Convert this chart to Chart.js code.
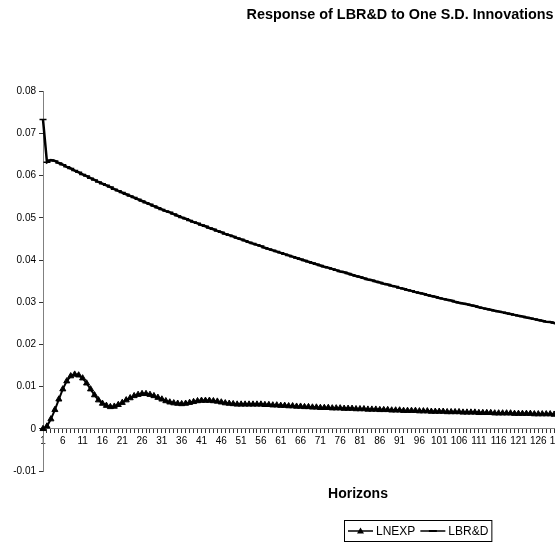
<!DOCTYPE html>
<html>
<head>
<meta charset="utf-8">
<script src="https://cdn.jsdelivr.net/npm/chart.js@4/dist/chart.umd.min.js"></script>
<style>
  html, body { margin: 0; padding: 0; background: #fff; overflow: hidden; }
  #wrap { width: 800px; height: 546px; }
</style>
</head>
<body>
<div id="wrap"><canvas id="irf" width="800" height="546"></canvas></div>
<script>
// horizons 1..160 (the plot runs past the right edge of the window)
const horizons = Array.from({ length: 160 }, (_, i) => String(i + 1));

const lnexp = [
    0.0000, 0.0006, 0.0023, 0.0045, 0.0070, 0.0094, 0.0113, 0.0125, 0.0129, 0.0127,
    0.0120, 0.0108, 0.0094, 0.0080, 0.0068, 0.0060, 0.0055, 0.0052, 0.0053, 0.0057,
    0.0062, 0.0068, 0.0073, 0.0078, 0.0081, 0.0083, 0.0083, 0.0081, 0.0078, 0.0074,
    0.0070, 0.0066, 0.0063, 0.0061, 0.0060, 0.0059, 0.0060, 0.0062, 0.0064, 0.0066,
    0.0067, 0.0067, 0.0067, 0.0066, 0.0065, 0.0063, 0.0061, 0.0060, 0.0059, 0.0058,
    0.0058, 0.0058, 0.0058, 0.0058, 0.0058, 0.0058, 0.0057, 0.0057, 0.0056, 0.0056,
    0.0055, 0.0055, 0.0054, 0.0054, 0.0053, 0.0053, 0.0052, 0.0052, 0.0051, 0.0051,
    0.0050, 0.0050, 0.0050, 0.0049, 0.0049, 0.0049, 0.0048, 0.0048, 0.0048, 0.0047,
    0.0047, 0.0047, 0.0046, 0.0046, 0.0046, 0.0045, 0.0045, 0.0045, 0.0044, 0.0044,
    0.0044, 0.0043, 0.0043, 0.0043, 0.0043, 0.0042, 0.0042, 0.0042, 0.0041, 0.0041,
    0.0041, 0.0041, 0.0040, 0.0040, 0.0040, 0.0040, 0.0039, 0.0039, 0.0039, 0.0039,
    0.0038, 0.0038, 0.0038, 0.0038, 0.0037, 0.0037, 0.0037, 0.0037, 0.0037, 0.0036,
    0.0036, 0.0036, 0.0036, 0.0036, 0.0035, 0.0035, 0.0035, 0.0035, 0.0035, 0.0034,
    0.0034, 0.0034, 0.0034, 0.0034, 0.0033
];

const lbrd = [
    0.0733, 0.0632, 0.0637, 0.0635, 0.0630, 0.0626, 0.0621, 0.0617, 0.0612, 0.0608,
    0.0603, 0.0599, 0.0594, 0.0590, 0.0585, 0.0581, 0.0577, 0.0573, 0.0568, 0.0564,
    0.0560, 0.0556, 0.0552, 0.0548, 0.0544, 0.0540, 0.0536, 0.0532, 0.0528, 0.0524,
    0.0520, 0.0516, 0.0513, 0.0509, 0.0505, 0.0501, 0.0498, 0.0494, 0.0490, 0.0487,
    0.0483, 0.0480, 0.0476, 0.0473, 0.0469, 0.0466, 0.0462, 0.0459, 0.0456, 0.0452,
    0.0449, 0.0446, 0.0442, 0.0439, 0.0436, 0.0433, 0.0429, 0.0426, 0.0423, 0.0420,
    0.0417, 0.0414, 0.0411, 0.0408, 0.0405, 0.0402, 0.0399, 0.0396, 0.0393, 0.0390,
    0.0387, 0.0384, 0.0382, 0.0379, 0.0376, 0.0373, 0.0371, 0.0368, 0.0365, 0.0362,
    0.0360, 0.0357, 0.0354, 0.0352, 0.0349, 0.0347, 0.0344, 0.0342, 0.0339, 0.0337,
    0.0334, 0.0332, 0.0329, 0.0327, 0.0324, 0.0322, 0.0320, 0.0317, 0.0315, 0.0313,
    0.0310, 0.0308, 0.0306, 0.0304, 0.0301, 0.0299, 0.0297, 0.0295, 0.0293, 0.0291,
    0.0288, 0.0286, 0.0284, 0.0282, 0.0280, 0.0278, 0.0276, 0.0274, 0.0272, 0.0270,
    0.0268, 0.0266, 0.0264, 0.0262, 0.0260, 0.0258, 0.0256, 0.0254, 0.0253, 0.0251,
    0.0249, 0.0247, 0.0245, 0.0243, 0.0242
];

const yTicks = [-0.01, 0, 0.01, 0.02, 0.03, 0.04, 0.05, 0.06, 0.07, 0.08];

const FONT = '"Liberation Sans", Arial, sans-serif';

// Excel-style boxed legend under the axis title
const boxLegend = {
    id: 'boxLegend',
    afterDraw(chart) {
        const ctx = chart.ctx;
        const sets = chart.data.datasets;
        const y = 531;
        let x = 344;
        const left = x;
        ctx.save();
        ctx.font = '12px ' + FONT;
        ctx.textBaseline = 'middle';
        ctx.fillStyle = '#000';
        ctx.strokeStyle = '#000';
        x += 4;
        sets.forEach((ds, i) => {
            ctx.lineWidth = 1.5;
            ctx.beginPath();
            ctx.moveTo(x, y);
            ctx.lineTo(x + 25, y);
            ctx.stroke();
            const cx = x + 12.5;
            if (ds.pointStyle === 'triangle') {
                ctx.beginPath();
                ctx.moveTo(cx, y - 3.5);
                ctx.lineTo(cx + 3.5, y + 2.5);
                ctx.lineTo(cx - 3.5, y + 2.5);
                ctx.closePath();
                ctx.fill();
            } else {
                ctx.lineWidth = 2;
                ctx.beginPath();
                ctx.moveTo(cx - 4, y);
                ctx.lineTo(cx + 4, y);
                ctx.stroke();
            }
            x += 28;
            ctx.fillText(ds.label, x, y + 0.5);
            x += ctx.measureText(ds.label).width + (i < sets.length - 1 ? 5 : 3);
        });
        ctx.lineWidth = 1;
        ctx.strokeRect(left + 0.5, 520.5, x - left, 21);
        ctx.restore();
    }
};

new Chart(document.getElementById('irf'), {
    type: 'line',
    data: {
        labels: horizons,
        datasets: [
            {
                label: 'LNEXP',
                data: lnexp,
                borderColor: '#000',
                backgroundColor: '#000',
                borderWidth: 2,
                pointStyle: 'triangle',
                pointRadius: 3.5,
                pointBorderWidth: 1,
                tension: 0
            },
            {
                label: 'LBR&D',
                data: lbrd,
                borderColor: '#000',
                backgroundColor: '#000',
                borderWidth: 2.5,
                pointStyle: 'line',
                pointRadius: 3.5,
                pointBorderWidth: 1.5,
                tension: 0
            }
        ]
    },
    options: {
        responsive: false,
        animation: false,
        layout: { padding: { bottom: 75 } },
        plugins: {
            legend: { display: false },
            tooltip: { enabled: false },
            title: {
                display: true,
                text: 'Response of LBR&D to One S.D. Innovations',
                color: '#000',
                font: { family: FONT, size: 14.4, weight: 'bold' },
                padding: { top: 6, bottom: 68 }
            }
        },
        scales: {
            x: {
                type: 'category',
                position: { y: 0 },
                offset: false,
                grid: {
                    display: true,
                    drawOnChartArea: false,
                    drawTicks: true,
                    tickLength: 4,
                    color: '#333'
                },
                border: { display: true, color: '#808080', width: 1 },
                ticks: {
                    autoSkip: false,
                    maxRotation: 0,
                    padding: 2,
                    color: '#000',
                    font: { family: FONT, size: 10 },
                    callback: function (value, index) {
                        return index % 5 === 0 ? this.getLabelForValue(value) : '';
                    }
                },
                title: {
                    display: true,
                    text: 'Horizons',
                    color: '#000',
                    font: { family: FONT, size: 14, weight: 'bold' },
                    padding: { top: 37, bottom: 0 }
                }
            },
            y: {
                min: -0.01,
                max: 0.08,
                afterFit: (scale) => { scale.width = 43; },
                afterBuildTicks: (scale) => { scale.ticks = yTicks.map(v => ({ value: v })); },
                grid: {
                    display: true,
                    drawOnChartArea: false,
                    drawTicks: true,
                    tickLength: 4,
                    color: '#333'
                },
                border: { display: true, color: '#808080', width: 1 },
                ticks: {
                    padding: 3,
                    color: '#000',
                    font: { family: FONT, size: 10 },
                    callback: (v) => String(Math.round(v * 100) / 100)
                }
            },
            // empty right-hand axis: keeps the plot at horizon 160 while the title stays centred on the canvas
            spacer: {
                type: 'linear',
                position: 'right',
                display: true,
                afterFit: (scale) => { scale.width = 127; },
                grid: { display: false },
                border: { display: false },
                ticks: { display: false }
            }
        }
    },
    plugins: [boxLegend]
});
</script>
</body>
</html>
